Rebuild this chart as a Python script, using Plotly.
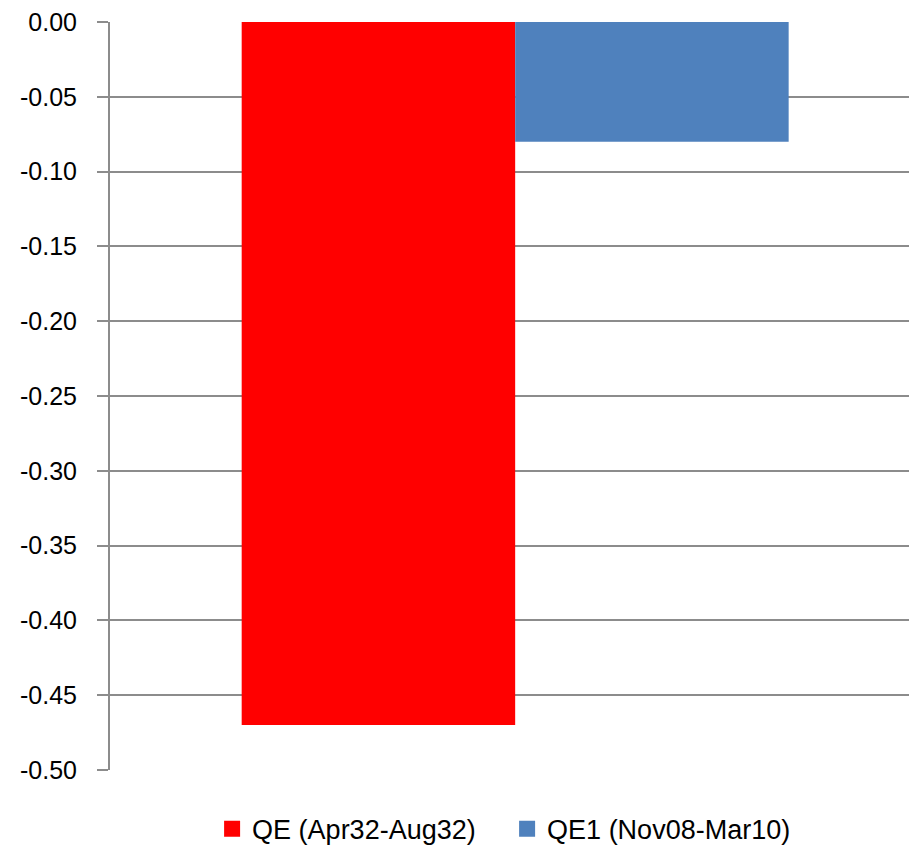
import plotly.graph_objects as go

# data
category = [""]
series_names = ["QE (Apr32-Aug32)", "QE1 (Nov08-Mar10)"]
qe_1932 = [-0.47]
qe1_2008 = [-0.08]
colors = ["#ff0000", "#4f81bd"]

y_ticks = [0.0, -0.05, -0.10, -0.15, -0.20, -0.25, -0.30, -0.35, -0.40, -0.45, -0.50]

grid_col = "#8c8c8c"
family = "Liberation Sans, Arial, sans-serif"

fig = go.Figure()
for name, vals, col in zip(series_names, [qe_1932, qe1_2008], colors):
    fig.add_trace(go.Bar(x=category, y=vals, name=name, showlegend=False,
                         marker=dict(color=col, line=dict(width=0))))
    # legend entry with a bigger square than the bar default
    fig.add_trace(go.Scatter(x=[None], y=[None], name=name, mode="markers",
                             marker=dict(symbol="square", size=20, color=col)))

fig.update_layout(
    width=909,
    height=856,
    barmode="group",
    bargap=0.325,
    bargroupgap=0,
    plot_bgcolor="white",
    paper_bgcolor="white",
    margin=dict(l=110, r=0, t=22, b=86),
    font=dict(family=family, size=27, color="#000000"),
    showlegend=True,
    legend=dict(
        orientation="h",
        x=0.497, xanchor="center",
        y=-0.112, yanchor="bottom",
        font=dict(family=family, size=27, color="#000000"),
        itemwidth=30,
        entrywidth=250,
        traceorder="normal",
    ),
)

fig.update_xaxes(
    range=[-0.5, 0.486],
    showticklabels=False,
    showgrid=False,
    zeroline=False,
    showline=False,
    ticks="",
    automargin=False,
)

fig.update_yaxes(
    range=[-0.5, 0.0],
    tickvals=y_ticks,
    ticktext=[f"{v:.2f}" for v in y_ticks],
    showgrid=True,
    gridcolor=grid_col,
    gridwidth=2,
    zeroline=False,
    showline=True,
    linecolor=grid_col,
    linewidth=2,
    ticks="outside",
    ticklen=11,
    tickwidth=2,
    tickcolor=grid_col,
    ticklabelstandoff=15,
    automargin=False,
    tickfont=dict(family=family, size=25, color="#000000"),
)

# drop the default body margin so the chart sits at the page corner
fig.write_html("out.html", config={"displayModeBar": False},
               post_script="document.body.style.margin='0';")
